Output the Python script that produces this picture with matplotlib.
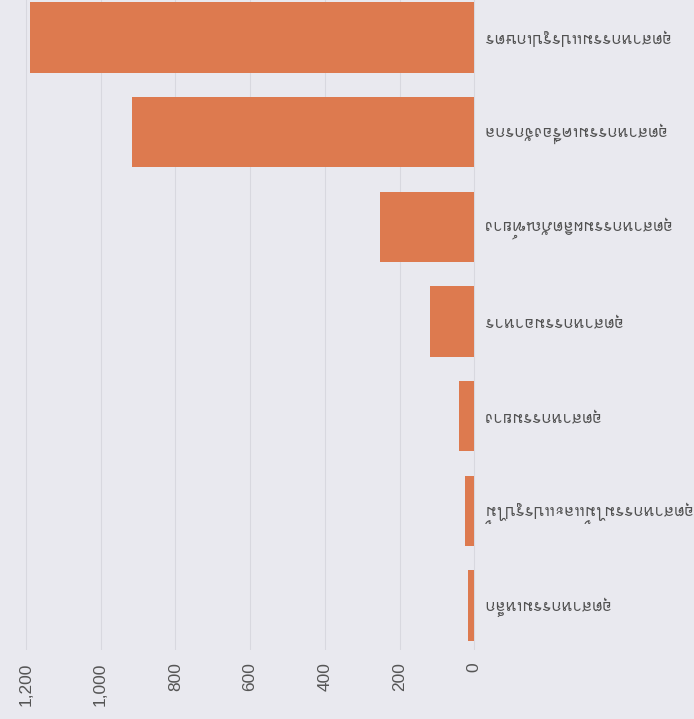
import matplotlib
matplotlib.use('Agg')
import matplotlib.pyplot as plt
from matplotlib import font_manager
from matplotlib.ft2font import FT2Font

# categories from top to bottom
industries = ['อุตสาหกรรมแปรรูปเกษตร', 'อุตสาหกรรมเครื่องจักรกล', 'อุตสาหกรรมผลิตภัณฑ์ยาง',
              'อุตสาหกรรมอาหาร', 'อุตสาหกรรมยาง', 'อุตสาหกรรมไม้และแปรรูปไม้',
              'อุตสาหกรรมเหล็ก']
counts = [1190, 916, 252, 118, 40, 24, 16]
ticks = [0, 200, 400, 600, 800, 1000, 1200]
tick_labels = ['0', '200', '400', '600', '800', '1,000', '1,200']

# look for an installed font that has Thai glyphs
thai_family = None
for fe in font_manager.fontManager.ttflist:
    try:
        if 0x0E01 in FT2Font(fe.fname).get_charmap():
            thai_family = fe.name
            break
    except Exception:
        pass
label_families = [thai_family, 'DejaVu Sans'] if thai_family else ['DejaVu Sans']

bg = '#e9e9ef'
fig = plt.figure(figsize=(6.94, 7.19), dpi=100, facecolor=bg)
ax = fig.add_axes([0, 69 / 719, 478 / 694, 650 / 719], facecolor=bg)

ypos = list(range(len(industries)))
ax.barh(ypos, counts, height=0.74, color='#dd7a4f', zorder=3)

ax.set_xlim(1269, -10)
ax.set_ylim(6.47, -0.396)
ax.set_xticks(ticks)
ax.set_xticklabels(tick_labels, rotation=90, fontsize=12.5, color='#555555',
                   family='Liberation Sans')
ax.tick_params(axis='x', length=0, pad=9)
ax.grid(axis='x', color='#d8d8df', linewidth=0.8, zorder=0)

ax.yaxis.tick_right()
ax.set_yticks(ypos)
ax.set_yticklabels(industries, rotation=180, ha='left', va='center', fontsize=12,
                   color='#505050', family=label_families)
ax.tick_params(axis='y', length=0, pad=3)

for s in ax.spines.values():
    s.set_visible(False)

plt.savefig('out.png', dpi=100, facecolor=bg)
plt.close()
